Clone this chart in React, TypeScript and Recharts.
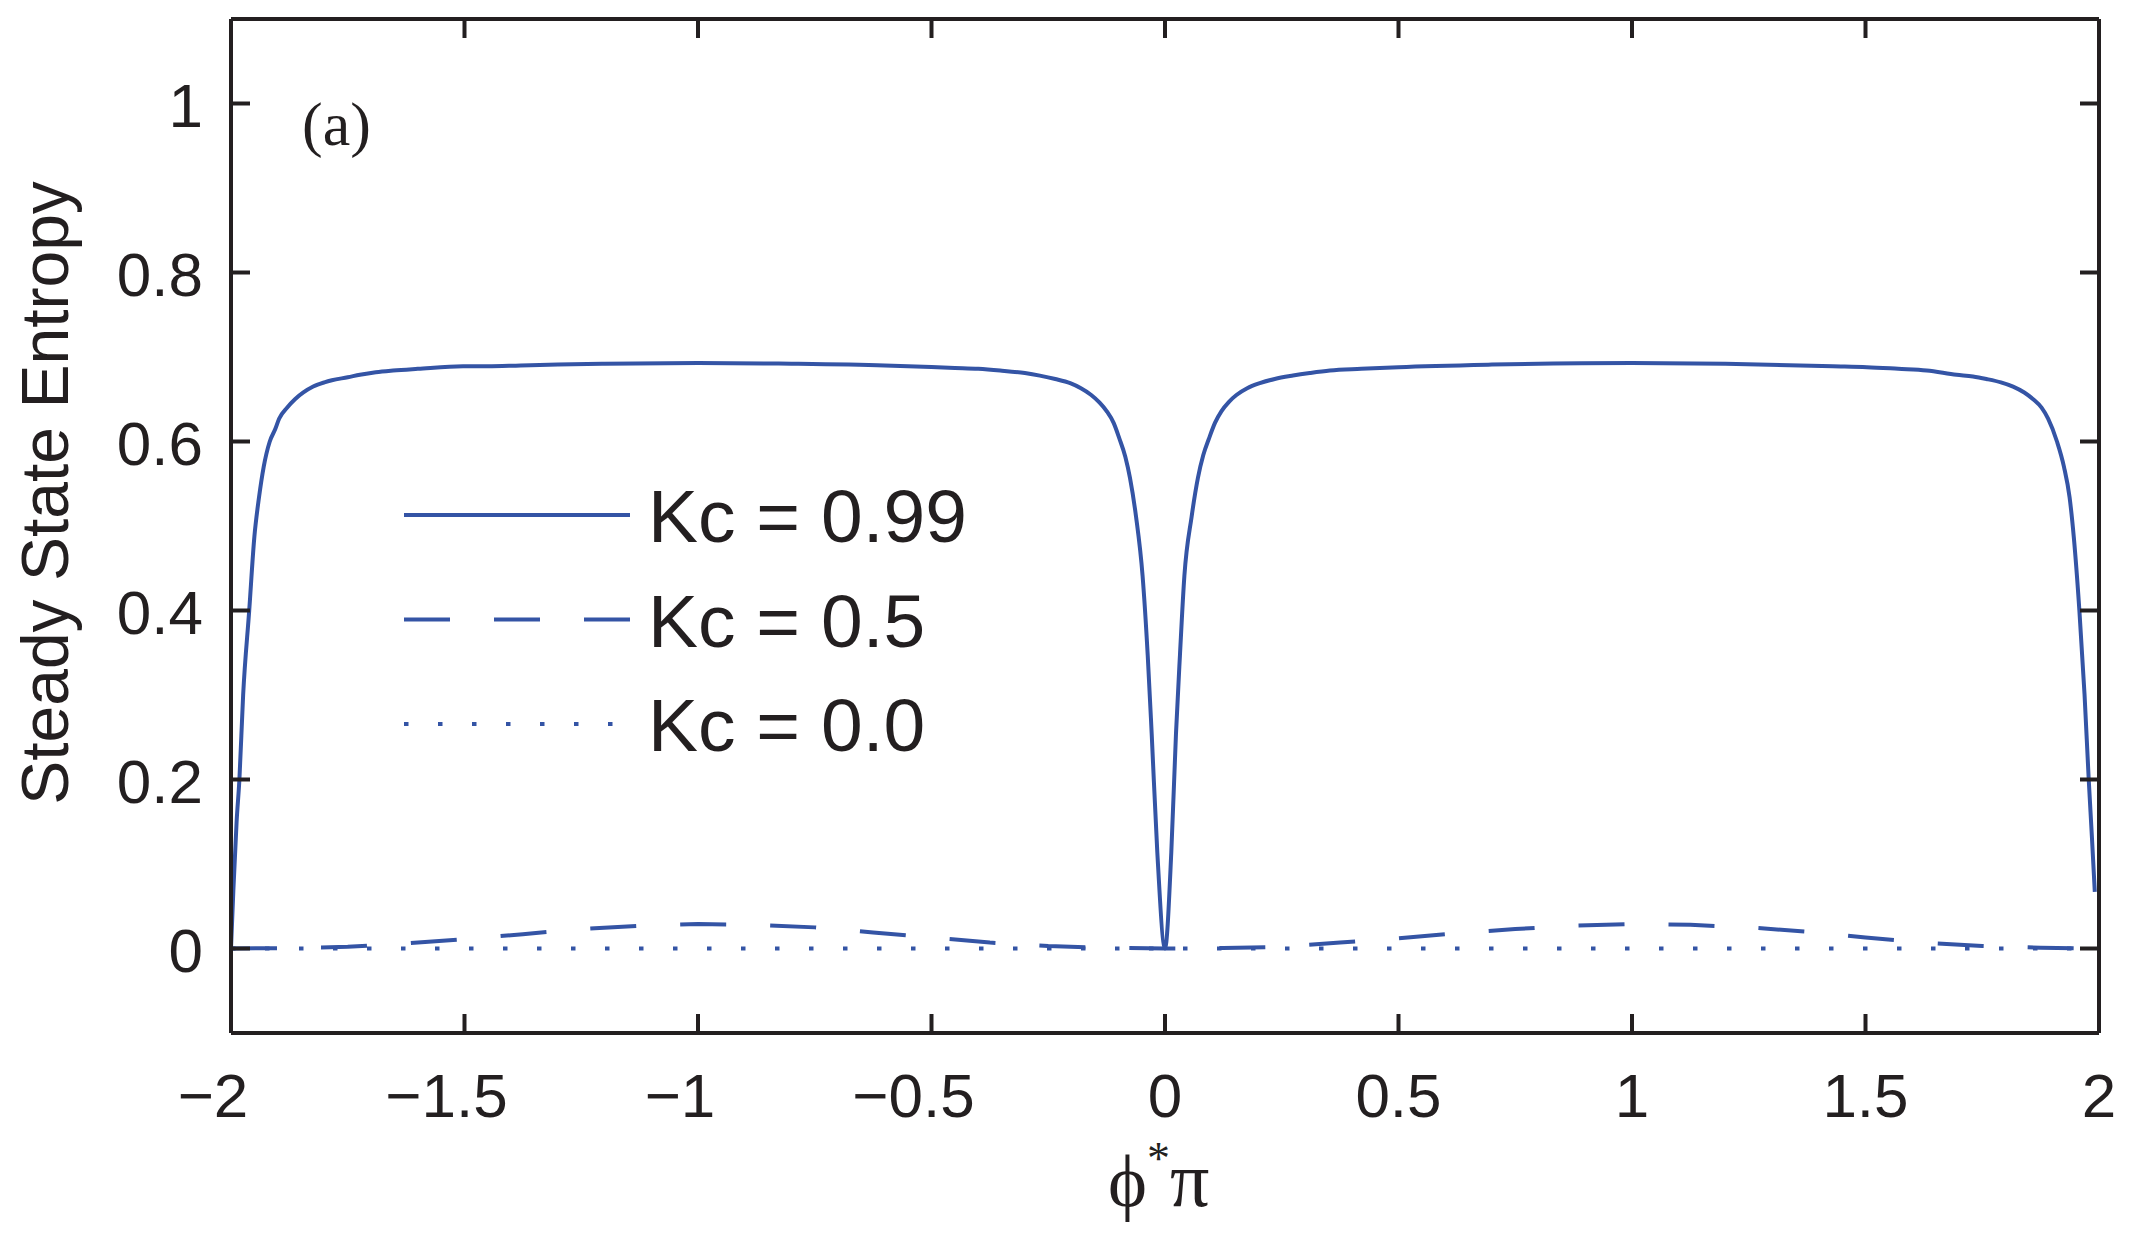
import { LineChart, Line, XAxis, YAxis, Legend } from 'recharts';

// Kc = 0.99 (solid)
const phi99 = [
  -2.0, -1.995, -1.988, -1.982, -1.974, -1.961, -1.95, -1.94, -1.93, -1.917, -1.905, -1.897, -1.88,
  -1.863, -1.845, -1.824, -1.8, -1.784, -1.75, -1.724, -1.69, -1.653, -1.6, -1.503, -1.45, -1.38,
  -1.3, -1.2, -1.0, -0.8, -0.6, -0.45, -0.4, -0.353, -0.3, -0.268, -0.235, -0.203, -0.18, -0.158,
  -0.14, -0.125, -0.11, -0.098, -0.085, -0.075, -0.062, -0.048, -0.037, -0.0285, -0.0165, 0.0,
  0.0135, 0.0235, 0.032, 0.0415, 0.057, 0.0705, 0.082, 0.0945, 0.107, 0.121, 0.137, 0.153, 0.176,
  0.203, 0.235, 0.274, 0.31, 0.353, 0.42, 0.5, 0.7, 1.0, 1.2, 1.36, 1.43, 1.503, 1.57, 1.631, 1.695,
  1.73, 1.759, 1.79, 1.816, 1.84, 1.859, 1.877, 1.891, 1.91, 1.925, 1.937, 1.946, 1.958, 1.969,
  1.978, 1.985, 1.991,
];
const entropy99 = [
  0.0, 0.068, 0.15, 0.2, 0.3, 0.4, 0.487, 0.534, 0.57, 0.6, 0.615, 0.627, 0.64,
  0.65, 0.658, 0.665, 0.67, 0.6725, 0.676, 0.679, 0.682, 0.684, 0.686, 0.689, 0.689, 0.69,
  0.691, 0.692, 0.693, 0.692, 0.69, 0.687, 0.686, 0.684, 0.681, 0.678, 0.674, 0.669, 0.663, 0.655,
  0.646, 0.636, 0.622, 0.604, 0.582, 0.557, 0.511, 0.441, 0.347, 0.254, 0.114, 0.0,
  0.114, 0.254, 0.347, 0.441, 0.511, 0.557, 0.584, 0.604, 0.622, 0.636, 0.647, 0.655, 0.663,
  0.669, 0.674, 0.678, 0.681, 0.684, 0.686, 0.688, 0.691, 0.693, 0.692, 0.69, 0.689, 0.688, 0.686,
  0.684, 0.679, 0.677, 0.674, 0.67, 0.665, 0.658, 0.65, 0.64, 0.627, 0.6, 0.57, 0.534, 0.487, 0.4,
  0.301, 0.2, 0.13, 0.067,
];

// Kc = 0.5 (dashed)
const phi05 = [
  -2, -1.875, -1.75, -1.625, -1.5, -1.375, -1.25, -1.125, -1, -0.875, -0.75, -0.625, -0.5,
  -0.375, -0.25, -0.125, 0, 0.125, 0.25, 0.375, 0.5, 0.625, 0.75, 0.875, 1, 1.125, 1.25,
  1.375, 1.5, 1.625, 1.75, 1.875, 2,
];
const entropy05 = [
  0, 0.0005, 0.002, 0.006, 0.011, 0.017, 0.023, 0.027, 0.029, 0.028, 0.025, 0.019, 0.013,
  0.007, 0.003, 0.0008, 0, 0.0005, 0.002, 0.007, 0.012, 0.018, 0.023, 0.027, 0.029, 0.028, 0.025,
  0.02, 0.013, 0.007, 0.003, 0.001, 0,
];

// Kc = 0.0 (dotted)
const phi00 = [-2, -1, 0, 1, 2];
const entropy00 = [0, 0, 0, 0, 0];

const xTicks = [-2, -1.5, -1, -0.5, 0, 0.5, 1, 1.5, 2];
const yTicks = [0, 0.2, 0.4, 0.6, 0.8, 1];

const seriesNames = ['Kc = 0.99', 'Kc = 0.5', 'Kc = 0.0'];
const dashes = [undefined, '46 44', '4.5 29.5'];

const BLUE = '#3454a5';
const INK = '#231f20';
const SANS = "'Liberation Sans', Arial, Helvetica, sans-serif";
const SERIF = "'Liberation Serif', 'Times New Roman', 'DejaVu Serif', serif";

const toRows = (xs: number[], ys: number[]) => xs.map((x, i) => ({ phi: x, s: ys[i] }));
const data99 = toRows(phi99, entropy99);
const data05 = toRows(phi05, entropy05);
const data00 = toRows(phi00, entropy00);

const fmt = (v: number) => (v < 0 ? `\u2212${Math.abs(v)}` : `${v}`);

function BottomTick({ x, y, payload }: any) {
  const v = payload.value;
  return (
    <g>
      <line x1={x} x2={x} y1={y} y2={y - 19} stroke={INK} strokeWidth={4} />
      <text x={x} y={y + 84} dx={v < 0 ? -18 : 0} textAnchor="middle" fontSize={62} fontFamily={SANS} fill={INK}>
        {fmt(v)}
      </text>
    </g>
  );
}

function TopTick({ x, y }: any) {
  return <line x1={x} x2={x} y1={y} y2={y + 19} stroke={INK} strokeWidth={4} />;
}

function LeftTick({ x, y, payload }: any) {
  return (
    <g>
      <line x1={x} x2={x + 19} y1={y} y2={y} stroke={INK} strokeWidth={4} />
      <text x={x - 28} y={y} dy="0.38em" textAnchor="end" fontSize={62} fontFamily={SANS} fill={INK}>
        {fmt(payload.value)}
      </text>
    </g>
  );
}

function RightTick({ x, y }: any) {
  return <line x1={x} x2={x - 19} y1={y} y2={y} stroke={INK} strokeWidth={4} />;
}

function LegendBox() {
  return (
    <svg width={660} height={320}>
      {seriesNames.map((name, i) => {
        const ry = 65 + i * 104.5;
        return (
          <g key={name}>
            <line x1={24} x2={250} y1={ry} y2={ry} stroke={BLUE} strokeWidth={4} strokeDasharray={dashes[i]} />
            <text x={268} y={ry + 27} fontSize={75} fontFamily={SANS} fill={INK}>{name}</text>
          </g>
        );
      })}
    </svg>
  );
}

export default function App() {
  return (
    <div style={{ position: 'absolute', left: 0, top: 0, width: 2132, height: 1237, background: '#fff' }}>
      <LineChart width={2132} height={1237} margin={{ top: 18, right: 32, bottom: 104, left: 131 }}>
        <XAxis
          dataKey="phi" type="number" domain={[-2, 2]} ticks={xTicks} allowDataOverflow
          height={100} tickSize={0} tickMargin={0} tickLine={false} tick={<BottomTick />}
          axisLine={{ stroke: INK, strokeWidth: 4 }} interval={0}
          label={() => (
            <text x={1108} y={1206} fontFamily={SERIF} fill={INK} fontSize={74}>
              <tspan>{'\u03D5'}</tspan>
              <tspan dy={-32} fontSize={46}>*</tspan>
              <tspan dy={32} fontSize={78}>{'\u03C0'}</tspan>
            </text>
          )}
        />
        <XAxis
          xAxisId="top" orientation="top" dataKey="phi" type="number" domain={[-2, 2]} ticks={xTicks}
          allowDataOverflow height={1} tickSize={0} tickMargin={0} tickLine={false} tick={<TopTick />}
          axisLine={{ stroke: INK, strokeWidth: 4 }} interval={0}
        />
        <YAxis
          type="number" domain={[-0.1, 1.1]} ticks={yTicks} allowDataOverflow width={100}
          tickSize={0} tickMargin={0} tickLine={false} tick={<LeftTick />} interval={0}
          axisLine={{ stroke: INK, strokeWidth: 4 }}
          label={() => (
            <text x={68} y={493} transform="rotate(-90, 68, 493)" textAnchor="middle" fontSize={66} fontFamily={SANS} fill={INK}>
              Steady State Entropy
            </text>
          )}
        />
        <YAxis
          yAxisId="right" orientation="right" type="number" domain={[-0.1, 1.1]} ticks={yTicks}
          allowDataOverflow width={1} tickSize={0} tickMargin={0} tickLine={false} tick={<RightTick />}
          interval={0} axisLine={{ stroke: INK, strokeWidth: 4 }}
        />
        <Legend
          layout="horizontal" verticalAlign="middle" align="center"
          wrapperStyle={{ left: 380, top: 450, width: 660, height: 320 }}
          content={() => <LegendBox />}
        />
        <Line data={data00} dataKey="s" name={seriesNames[2]} type="linear" stroke={BLUE} strokeWidth={4}
          strokeDasharray={dashes[2]} dot={false} activeDot={false} isAnimationActive={false} />
        <Line data={data05} dataKey="s" name={seriesNames[1]} type="linear" stroke={BLUE} strokeWidth={4}
          strokeDasharray={dashes[1]} dot={false} activeDot={false} isAnimationActive={false} />
        <Line data={data99} dataKey="s" name={seriesNames[0]} type="monotone" stroke={BLUE} strokeWidth={4}
          dot={false} activeDot={false} isAnimationActive={false} />
      </LineChart>
      <svg width={2132} height={1237} style={{ position: 'absolute', left: 0, top: 0, pointerEvents: 'none' }}>
        <text x={302} y={145} fontSize={62} fontFamily={SERIF} fill={INK}>(a)</text>
      </svg>
    </div>
  );
}
